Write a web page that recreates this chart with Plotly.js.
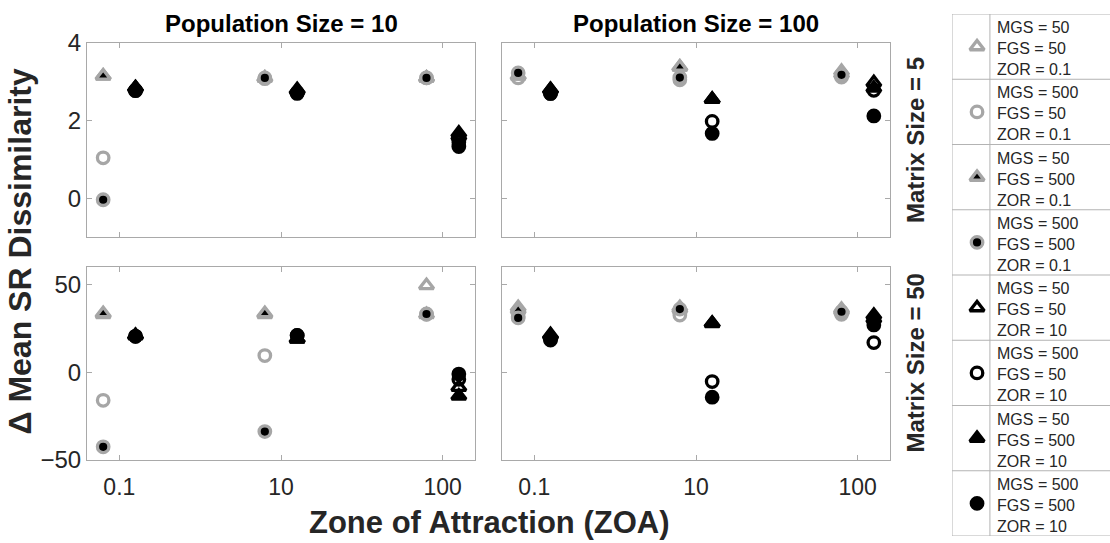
<!DOCTYPE html>
<html>
<head>
<meta charset="utf-8">
<script src="https://cdn.plot.ly/plotly-3.0.1.min.js"></script>
<style>
  html, body { margin: 0; padding: 0; background: #fff; }
  #chart { width: 1110px; height: 543px; }
</style>
</head>
<body>
<div id="chart"></div>
<script>
// Zone of attraction values (evenly spaced groups on the x axis)
const zoa = [0.1, 10, 100];

// Parameter combinations for the eight series
const mgs = [50, 500, 50, 500, 50, 500, 50, 500];
const fgs = [50, 50, 500, 500, 50, 50, 500, 500];
const zor = [0.1, 0.1, 0.1, 0.1, 10, 10, 10, 10];

// Δ mean SR dissimilarity, one row per series, one column per ZOA value
const pop10_matrix5 = [
  [3.15, 3.10, 3.10],
  [1.04, 3.08, 3.10],
  [3.15, 3.10, 3.10],
  [-0.04, 3.10, 3.10],
  [2.85, 2.78, 1.60],
  [2.78, 2.70, 1.45],
  [2.85, 2.80, 1.68],
  [2.77, 2.72, 1.33]
];
const pop100_matrix5 = [
  [3.15, 3.38, 3.27],
  [3.10, 3.05, 3.12],
  [3.15, 3.38, 3.20],
  [3.23, 3.11, 3.18],
  [2.80, 2.55, 2.98],
  [2.70, 1.98, 2.78],
  [2.80, 2.55, 2.84],
  [2.70, 1.67, 2.12]
];
const pop10_matrix50 = [
  [33.0, 33.0, 49.5],
  [-16.0, 9.5, 33.0],
  [33.5, 33.5, 33.0],
  [-42.5, -33.8, 33.2],
  [21.0, 19.0, -8.5],
  [20.5, 21.0, -4.0],
  [21.0, 19.0, -13.5],
  [20.5, 21.0, -1.0]
];
const pop100_matrix50 = [
  [37.0, 37.0, 36.0],
  [32.0, 32.6, 33.0],
  [35.5, 36.0, 35.0],
  [31.0, 36.0, 34.5],
  [21.0, 28.0, 30.5],
  [19.0, -5.3, 16.9],
  [21.5, 27.8, 32.5],
  [18.4, -14.2, 27.0]
];

const colTitles = ['Population Size = 10', 'Population Size = 100'];
const rowTitles = ['Matrix Size = 5', 'Matrix Size = 50'];
const xTickText = ['0.1', '10', '100'];
const yTickTop = [0, 2, 4];
const yTickBottom = [-50, 0, 50];

// ---- styling ----
const W = 1110, H = 543;
const GRAY = '#a6a6a6', BLACK = '#000000', NONE = 'rgba(0,0,0,0)';
const AXIS = '#a9a9a9', TEXT = '#262626';
const FONT = 'Liberation Sans, Arial, Helvetica, sans-serif';

// series marker looks: ZOR = 0.1 in gray outline, ZOR = 10 in black
const looks = [
  { symbol: 'triangle-up', fill: NONE,  edge: GRAY },
  { symbol: 'circle',      fill: NONE,  edge: GRAY },
  { symbol: 'triangle-up', fill: BLACK, edge: GRAY },
  { symbol: 'circle',      fill: BLACK, edge: GRAY },
  { symbol: 'triangle-up', fill: NONE,  edge: BLACK },
  { symbol: 'circle',      fill: NONE,  edge: BLACK },
  { symbol: 'triangle-up', fill: BLACK, edge: BLACK },
  { symbol: 'circle',      fill: BLACK, edge: BLACK }
];
function marker(i) {
  const tri = looks[i].symbol === 'triangle-up';
  return {
    symbol: looks[i].symbol,
    size: tri ? 12.5 : 11.5,
    color: looks[i].fill,
    line: { color: looks[i].edge, width: 3.3 }
  };
}
// group slots 1..3; ZOR = 0.1 sits left of each slot, ZOR = 10 right
const slots = zoa.map((z, j) => j + 1);
function dodge(r) { return r < 1 ? -0.1 : 0.1; }

// panel boxes in pixels: [left, right], [top, bottom]
const colPx = [[87, 475], [502, 890]];
const rowPx = [[43, 237], [267, 460]];
const px2x = p => p / W;
const px2y = p => 1 - p / H;

const panels = [
  { data: pop10_matrix5,   col: 0, row: 0 },
  { data: pop100_matrix5,  col: 1, row: 0 },
  { data: pop10_matrix50,  col: 0, row: 1 },
  { data: pop100_matrix50, col: 1, row: 1 }
];

const traces = [];
const layout = {
  width: W, height: H,
  margin: { l: 0, r: 0, t: 0, b: 0 },
  paper_bgcolor: '#fff', plot_bgcolor: '#fff',
  showlegend: false,
  font: { family: FONT, color: TEXT },
  annotations: [],
  shapes: []
};

panels.forEach((p, k) => {
  const n = k + 1;
  const xa = 'x' + (n === 1 ? '' : n), ya = 'y' + (n === 1 ? '' : n);
  p.data.forEach((vals, i) => {
    traces.push({
      type: 'scatter', mode: 'markers',
      x: slots.map(s => s + dodge(zor[i])),
      y: vals,
      xaxis: xa, yaxis: ya,
      marker: marker(i),
      cliponaxis: false,
      hoverinfo: 'skip'
    });
  });
  layout['xaxis' + (n === 1 ? '' : n)] = {
    domain: [px2x(colPx[p.col][0]), px2x(colPx[p.col][1])],
    range: [0.8, 3.2],
    anchor: ya,
    tickmode: 'array', tickvals: slots, ticktext: xTickText,
    showticklabels: p.row === 1,
    ticks: 'inside', ticklen: 5, tickwidth: 1, tickcolor: AXIS,
    ticklabelstandoff: 6,
    showline: true, linecolor: AXIS, linewidth: 1, mirror: 'ticks',
    showgrid: false, zeroline: false,
    tickfont: { family: FONT, size: 23, color: TEXT },
    fixedrange: true
  };
  layout['yaxis' + (n === 1 ? '' : n)] = {
    domain: [px2y(rowPx[p.row][1]), px2y(rowPx[p.row][0])],
    range: p.row === 0 ? [-1, 4] : [-50, 60],
    anchor: xa,
    tickmode: 'array', tickvals: p.row === 0 ? yTickTop : yTickBottom,
    showticklabels: p.col === 0,
    ticks: 'inside', ticklen: 5, tickwidth: 1, tickcolor: AXIS,
    showline: true, linecolor: AXIS, linewidth: 1, mirror: 'ticks',
    showgrid: false, zeroline: false,
    tickfont: { family: FONT, size: 24, color: TEXT },
    fixedrange: true
  };
});

// column and row headings
colTitles.forEach((t, c) => {
  layout.annotations.push({
    xref: 'paper', yref: 'paper',
    x: px2x((colPx[c][0] + colPx[c][1]) / 2), y: px2y(23),
    xanchor: 'center', yanchor: 'middle', showarrow: false,
    text: '<b>' + t + '</b>',
    font: { family: FONT, size: 24, color: '#000' }
  });
});
rowTitles.forEach((t, r) => {
  layout.annotations.push({
    xref: 'paper', yref: 'paper',
    x: px2x(915), y: px2y((rowPx[r][0] + rowPx[r][1]) / 2),
    xanchor: 'center', yanchor: 'middle', showarrow: false, textangle: -90,
    text: '<b>' + t + '</b>',
    font: { family: FONT, size: 24, color: TEXT }
  });
});
// shared axis titles
layout.annotations.push({
  xref: 'paper', yref: 'paper',
  x: px2x(19), y: px2y(251.5),
  xanchor: 'center', yanchor: 'middle', showarrow: false, textangle: -90,
  text: '<b>\u0394 Mean SR Dissimilarity</b>',
  font: { family: FONT, size: 32, color: TEXT }
});
layout.annotations.push({
  xref: 'paper', yref: 'paper',
  x: px2x(488.5), y: px2y(522),
  xanchor: 'center', yanchor: 'middle', showarrow: false,
  text: '<b>Zone of Attraction (ZOA)</b>',
  font: { family: FONT, size: 31, color: TEXT }
});

// ---- legend table drawn on its own unit axes: one row per series ----
const legLeft = 952, legTop = 14, legBottom = 536;
const legSplit = 0.24;   // divider between symbol column and text column
layout.xaxis9 = {
  domain: [px2x(legLeft), 1], range: [0, 1], anchor: 'y9',
  visible: false, fixedrange: true
};
layout.yaxis9 = {
  domain: [px2y(legBottom), px2y(legTop)], range: [mgs.length, 0], anchor: 'x9',
  visible: false, fixedrange: true
};
const LEG_LINE = '#b3b3b3';
for (let r = 0; r <= mgs.length; r++) {
  layout.shapes.push({
    type: 'line', xref: 'x9', yref: 'y9', x0: 0, x1: 1.02, y0: r, y1: r,
    line: { color: LEG_LINE, width: 1 }
  });
}
[0, legSplit].forEach(xv => {
  layout.shapes.push({
    type: 'line', xref: 'x9', yref: 'y9', x0: xv, x1: xv, y0: 0, y1: mgs.length,
    line: { color: LEG_LINE, width: 1 }
  });
});
mgs.forEach((m, i) => {
  traces.push({
    type: 'scatter', mode: 'markers',
    x: [legSplit * 0.66], y: [i + 0.5],
    xaxis: 'x9', yaxis: 'y9',
    marker: marker(i), cliponaxis: false, hoverinfo: 'skip'
  });
  layout.annotations.push({
    xref: 'x9', yref: 'y9', x: legSplit + 0.035, y: i + 0.53,
    xanchor: 'left', yanchor: 'middle', align: 'left', showarrow: false,
    text: 'MGS = ' + m + '<br>FGS = ' + fgs[i] + '<br>ZOR = ' + zor[i],
    font: { family: FONT, size: 16, color: TEXT }
  });
});

Plotly.newPlot('chart', traces, layout, { staticPlot: true, displayModeBar: false });
</script>
</body>
</html>
